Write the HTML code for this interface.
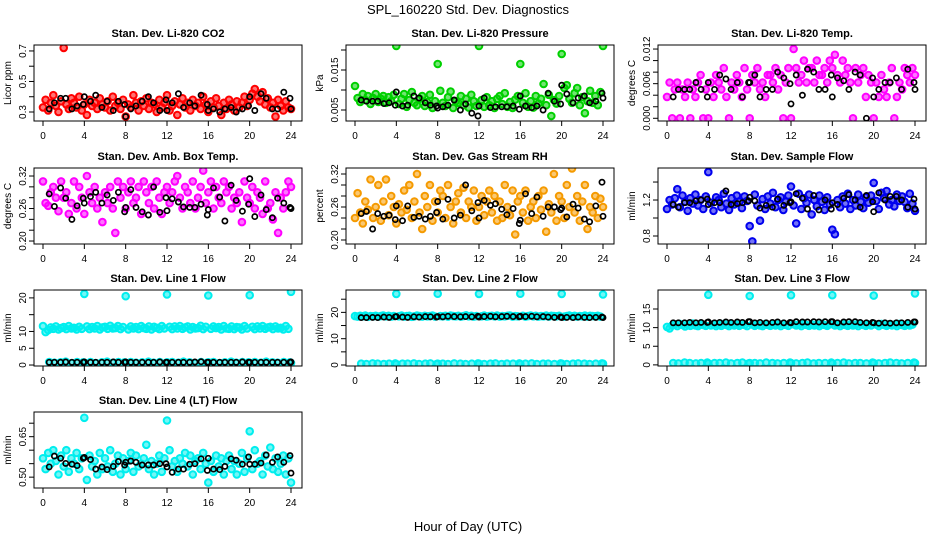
<!DOCTYPE html>
<html><head><meta charset="utf-8"><style>
html,body{margin:0;padding:0;background:#fff}
svg{display:block;font-family:"Liberation Sans",sans-serif}
</style></head><body>
<svg id="chart" width="936" height="540" viewBox="0 0 936 540" xmlns="http://www.w3.org/2000/svg">
<text x="468" y="14" text-anchor="middle" font-size="13">SPL_160220  Std. Dev. Diagnostics</text>
<text x="468" y="531" text-anchor="middle" font-size="13">Hour of Day (UTC)</text>
</svg>
<script>
const hoursC = [0,0.25,0.5,0.75,1,1.25,1.5,1.75,2,2.25,2.5,2.75,3,3.25,3.5,3.75,4,4.25,4.5,4.75,5,5.25,5.5,5.75,6,6.25,6.5,6.75,7,7.25,7.5,7.75,8,8.25,8.5,8.75,9,9.25,9.5,9.75,10,10.25,10.5,10.75,11,11.25,11.5,11.75,12,12.25,12.5,12.75,13,13.25,13.5,13.75,14,14.25,14.5,14.75,15,15.25,15.5,15.75,16,16.25,16.5,16.75,17,17.25,17.5,17.75,18,18.25,18.5,18.75,19,19.25,19.5,19.75,20,20.25,20.5,20.75,21,21.25,21.5,21.75,22,22.25,22.5,22.75,23,23.25,23.5,23.75,24];
const hoursB = [0.6,1.1,1.7,2.2,2.8,3.3,3.9,4.0,4.6,5.1,5.7,6.2,6.8,7.3,7.9,8.0,8.5,9.0,9.6,10.2,10.7,11.3,11.9,12.0,12.5,13.1,13.6,14.2,14.7,15.3,15.9,16.0,16.5,17.1,17.6,18.2,18.7,19.3,19.9,20.0,20.5,21.1,21.6,22.2,22.7,23.3,23.9,24.0];
const xTicks = [0,4,8,12,16,20,24];

const co2C = [0.33,0.38,0.31,0.36,0.41,0.34,0.30,0.37,0.72,0.35,0.32,0.39,0.36,0.33,0.40,0.31,0.35,0.28,0.38,0.34,0.36,0.32,0.39,0.35,0.33,0.37,0.31,0.40,0.34,0.36,0.32,0.38,0.27,0.35,0.33,0.41,0.36,0.31,0.37,0.34,0.39,0.32,0.36,0.35,0.30,0.38,0.33,0.36,0.41,0.31,0.34,0.37,0.28,0.35,0.39,0.33,0.36,0.31,0.38,0.34,0.36,0.32,0.40,0.35,0.30,0.37,0.33,0.39,0.34,0.28,0.36,0.32,0.38,0.35,0.31,0.37,0.33,0.36,0.40,0.34,0.38,0.42,0.45,0.40,0.37,0.43,0.35,0.39,0.33,0.36,0.27,0.38,0.34,0.31,0.37,0.33,0.32];
const co2B = [0.32,0.36,0.39,0.39,0.32,0.34,0.35,0.40,0.37,0.41,0.33,0.37,0.31,0.37,0.35,0.27,0.32,0.34,0.37,0.40,0.36,0.31,0.38,0.31,0.36,0.42,0.33,0.36,0.34,0.41,0.35,0.31,0.32,0.30,0.32,0.33,0.30,0.32,0.34,0.40,0.31,0.42,0.39,0.32,0.32,0.43,0.39,0.32];
const presC = [.011,.008,.007,.009,.0075,.0085,.0065,.008,.009,.007,.0078,.0085,.0068,.0082,.0072,.0088,.021,.0065,.0078,.009,.0058,.0075,.0095,.0068,.0062,.0078,.0085,.006,.007,.0088,.0055,.0072,.0165,.0098,.0068,.006,.0082,.0096,.0055,.0072,.0068,.0085,.0062,.0078,.0056,.0088,.0072,.006,.021,.0075,.0058,.0082,.0062,.0072,.0055,.0078,.0085,.0065,.0092,.0058,.007,.0055,.0076,.0085,.0165,.0068,.0092,.0058,.0072,.0056,.0085,.0066,.0078,.0115,.0062,.0088,.0035,.0075,.0066,.0085,.019,.0105,.0112,.0078,.0068,.0092,.0105,.0062,.0082,.0042,.0072,.0098,.0068,.0085,.0062,.0095,.021];
const presB = [.0075,.0072,.0072,.0072,.0066,.0068,.0062,.0095,.0060,.0062,.0085,.0080,.0068,.0062,.0060,.0055,.0058,.0062,.0075,.0050,.0065,.0042,.0035,.0060,.0080,.0056,.0058,.0058,.0058,.0060,.0052,.0085,.0060,.0056,.0060,.0050,.0092,.0072,.0065,.0112,.0090,.0068,.0080,.0085,.0068,.0072,.0092,.0080];
const tempC = [0.0037,0.0062,0.0000,0.0050,0.0062,0.0000,0.0050,0.0037,0.0062,0.0000,0.0050,0.0037,0.0062,0.0075,0.0000,0.0050,0.0000,0.0062,0.0037,0.0075,0.0062,0.0050,0.0087,0.0037,0.0000,0.0062,0.0050,0.0075,0.0062,0.0037,0.0087,0.0050,0.0000,0.0075,0.0062,0.0087,0.0050,0.0062,0.0037,0.0075,0.0075,0.0062,0.0087,0.0050,0.0075,0.0000,0.0062,0.0087,0.0000,0.0120,0.0087,0.0062,0.0075,0.0100,0.0062,0.0087,0.0087,0.0062,0.0100,0.0075,0.0075,0.0087,0.0062,0.0100,0.0087,0.0110,0.0075,0.0062,0.0100,0.0075,0.0087,0.0062,0.0000,0.0087,0.0062,0.0075,0.0087,0.0037,0.0075,0.0062,0.0000,0.0062,0.0037,0.0075,0.0050,0.0037,0.0062,0.0087,0.0000,0.0037,0.0062,0.0050,0.0087,0.0075,0.0062,0.0087,0.0075];
const tempB = [0.0037,0.0050,0.0050,0.0050,0.0062,0.0050,0.0037,0.0062,0.0050,0.0075,0.0068,0.0050,0.0062,0.0037,0.0062,0.0062,0.0075,0.0037,0.0050,0.0050,0.0080,0.0070,0.0060,0.0025,0.0075,0.0040,0.0085,0.0080,0.0050,0.0050,0.0075,0.0037,0.0070,0.0065,0.0050,0.0080,0.0075,0.0000,0.0070,0.0037,0.0050,0.0062,0.0062,0.0070,0.0050,0.0085,0.0062,0.0050];
const ambC = [.31,.27,.265,.29,.30,.28,.255,.31,.28,.29,.25,.27,.31,.26,.30,.28,.25,.32,.29,.27,.30,.26,.28,.235,.29,.27,.30,.26,.215,.31,.28,.30,.26,.29,.31,.27,.28,.30,.25,.31,.29,.27,.30,.26,.31,.28,.25,.29,.30,.27,.29,.31,.32,.28,.26,.30,.29,.27,.31,.26,.28,.30,.33,.27,.29,.31,.26,.30,.28,.27,.31,.29,.30,.26,.28,.27,.29,.235,.31,.28,.27,.30,.26,.29,.28,.25,.31,.26,.27,.24,.29,.215,.28,.26,.29,.31,.30];
const ambB = [.287,.264,.298,.279,.240,.265,.279,.270,.282,.290,.270,.285,.275,.290,.254,.262,.295,.262,.254,.248,.300,.253,.280,.256,.278,.272,.263,.262,.262,.268,.248,.258,.298,.281,.237,.303,.275,.255,.268,.315,.245,.285,.258,.243,.279,.270,.262,.260];
const rhC = [.24,.285,.25,.23,.27,.255,.31,.24,.26,.30,.235,.27,.31,.245,.28,.26,.23,.265,.25,.29,.255,.30,.24,.27,.32,.25,.22,.28,.26,.30,.235,.27,.25,.29,.28,.24,.30,.26,.23,.27,.285,.25,.295,.24,.27,.26,.29,.235,.26,.28,.245,.27,.29,.25,.28,.235,.27,.24,.30,.26,.245,.29,.21,.27,.28,.25,.29,.235,.26,.27,.24,.28,.255,.29,.215,.265,.25,.32,.235,.28,.27,.24,.30,.26,.33,.25,.28,.235,.27,.30,.22,.26,.25,.28,.24,.275,.26];
const rhB = [.248,.252,.220,.248,.243,.245,.237,.262,.235,.262,.241,.243,.238,.243,.250,.270,.238,.274,.240,.245,.300,.253,.268,.240,.272,.263,.266,.256,.246,.257,.230,.236,.284,.248,.278,.243,.260,.260,.255,.258,.242,.265,.258,.238,.233,.262,.305,.243];
const flowC = [1.10,1.20,1.15,1.22,1.32,1.12,1.25,1.18,1.08,1.22,1.16,1.26,1.14,1.20,1.10,1.24,1.51,1.17,1.08,1.23,1.20,1.12,1.27,1.16,1.09,1.22,1.15,1.25,1.18,1.11,1.24,1.19,0.91,0.74,1.26,1.14,0.97,1.21,1.10,1.24,1.16,1.28,1.12,1.20,1.23,1.09,1.18,1.25,1.35,1.14,0.94,1.27,1.10,1.22,1.17,1.26,1.04,1.20,1.13,1.25,1.18,1.09,1.23,1.15,0.87,0.82,1.20,1.12,1.24,1.16,1.27,1.10,1.20,1.14,1.26,1.18,1.11,1.23,1.17,1.25,1.39,1.19,1.10,1.28,1.22,1.30,1.15,1.20,1.13,1.26,1.19,1.24,1.18,1.11,1.27,1.16,1.08];
const flowB = [1.15,1.12,1.17,1.17,1.19,1.20,1.21,1.15,1.17,1.17,1.30,1.15,1.16,1.17,1.19,1.23,1.19,1.11,1.14,1.12,1.21,1.14,1.17,1.18,1.27,1.22,1.10,1.25,1.09,1.20,1.10,1.17,1.15,1.22,1.26,1.20,1.12,1.25,1.18,1.07,1.28,1.20,1.24,1.24,1.20,1.12,1.21,1.10];
const l1C = [11.6,9.8,10.4,11.2,10.8,11.5,10.6,11.0,11.3,10.7,11.6,10.9,11.1,10.6,11.4,10.8,21.2,11.5,10.7,11.3,10.9,11.6,10.6,11.2,11.4,10.8,11.7,10.9,11.0,11.6,10.7,11.3,20.5,10.6,11.5,10.9,11.3,10.7,11.6,11.0,10.8,11.5,10.6,11.4,11.1,10.7,11.6,10.9,21.0,11.4,10.7,11.5,10.9,11.6,10.8,11.2,11.5,10.6,11.3,10.9,11.0,11.7,10.7,11.4,20.7,10.8,11.5,11.0,11.3,10.6,11.6,10.9,10.8,11.5,10.7,11.3,11.2,10.6,11.6,10.9,20.8,11.4,10.7,11.5,10.9,11.6,10.8,11.2,11.4,10.7,11.5,10.9,11.1,10.6,11.6,10.8,21.8];
const l1Low = [0.9,0.7,0.8,1.0,0.6,0.9,0.8,0.7,0.9,0.6,0.8,1.0,0.7,0.9,0.8,0.6,0.9,0.7,0.8,1.0,0.7,0.9,0.6,0.8,0.9,0.7,1.0,0.8,0.6,0.9,0.7,0.8,0.9,0.6,0.8,1.0,0.7,0.9,0.8,0.6,0.9,0.7,1.0,0.8,0.7,0.9,0.8,0.6];
const l1B = [0.8,0.8,0.8,0.9,0.8,0.8,0.8,0.9,0.8,0.8,0.8,0.8,0.9,0.8,0.8,0.9,0.8,0.8,0.8,0.8,0.8,0.9,0.8,0.8,0.8,0.8,0.8,0.8,0.9,1.0,0.8,0.8,0.8,0.8,0.8,0.8,0.8,0.9,0.8,0.8,0.8,0.8,0.8,0.8,0.8,0.8,0.8,0.9];
const l2C = [18.6,18.4,18.7,18.5,18.8,18.3,18.6,18.5,18.7,18.4,18.6,18.8,18.5,18.7,18.4,18.6,27.0,18.5,18.8,18.4,18.6,18.7,18.3,18.5,18.8,18.6,18.4,18.7,18.5,18.6,18.8,18.4,27.1,18.6,18.5,18.7,18.4,18.8,18.6,18.5,18.7,18.4,18.6,18.9,18.5,18.7,18.4,18.6,27.0,18.5,18.8,18.4,18.6,18.7,18.5,18.8,18.4,18.6,18.5,18.7,18.8,18.4,18.6,18.5,27.1,18.7,18.4,18.6,18.8,18.5,18.7,18.4,18.6,18.5,18.8,18.4,18.7,18.6,18.5,18.7,27.0,18.4,18.6,18.8,18.5,18.7,18.4,18.6,18.5,18.8,18.4,18.7,18.6,18.5,18.7,18.4,26.8];
const l2Low = [0.5,0.4,0.6,0.5,0.4,0.5,0.6,0.4,0.5,0.5,0.6,0.4,0.5,0.6,0.4,0.5,0.5,0.4,0.6,0.5,0.4,0.5,0.6,0.5,0.4,0.5,0.6,0.4,0.5,0.5,0.6,0.4,0.5,0.6,0.4,0.5,0.5,0.4,0.6,0.5,0.4,0.5,0.6,0.5,0.4,0.5,0.6,0.5];
const l2B = [18.0,18.0,18.1,18.0,18.2,18.1,18.3,18.4,18.2,18.1,18.3,18.2,18.4,18.3,18.2,18.4,18.3,18.5,18.4,18.3,18.4,18.3,18.5,18.2,18.4,18.5,18.3,18.4,18.5,18.4,18.3,18.5,18.4,18.5,18.3,18.4,18.2,18.1,18.2,18.0,18.1,18.0,18.2,18.1,18.0,18.1,18.2,18.0];
const l3C = [10.2,9.8,10.6,10.9,10.4,11.0,10.7,10.3,10.8,10.5,11.1,10.6,10.4,10.9,10.7,10.5,18.8,10.6,10.9,10.4,10.8,10.5,11.0,10.7,10.4,10.9,10.6,10.8,10.5,11.0,10.7,10.4,18.5,10.8,10.5,10.9,10.6,10.4,11.0,10.7,10.5,10.9,10.6,10.8,10.4,11.0,10.7,10.5,18.7,10.9,10.6,10.8,10.4,11.0,10.7,10.5,10.9,10.6,10.8,10.4,11.0,10.7,10.5,10.9,18.7,10.6,10.8,10.4,11.0,10.7,10.5,10.9,10.6,10.8,10.4,11.0,10.7,10.5,10.9,10.6,18.6,10.8,10.4,11.0,10.7,10.5,10.9,10.6,10.8,10.4,11.0,10.7,10.5,10.9,10.6,10.8,19.2];
const l3Low = [0.5,0.4,0.6,0.5,0.4,0.5,0.6,0.4,0.5,0.5,0.6,0.4,0.5,0.6,0.4,0.5,0.5,0.4,0.6,0.5,0.4,0.5,0.6,0.5,0.4,0.5,0.6,0.4,0.5,0.5,0.6,0.4,0.5,0.6,0.4,0.5,0.5,0.4,0.6,0.5,0.4,0.5,0.6,0.5,0.4,0.5,0.6,0.5];
const l3B = [11.3,11.3,11.3,11.4,11.3,11.4,11.4,11.5,11.3,11.4,11.5,11.4,11.5,11.4,11.6,11.6,11.3,11.4,11.3,11.4,11.5,11.3,11.4,11.3,11.6,11.5,11.5,11.6,11.5,11.6,11.6,11.6,11.3,11.5,11.6,11.6,11.4,11.3,11.4,11.3,11.2,11.3,11.2,11.3,11.3,11.4,11.5,11.5];
const l4C = [.57,.53,.59,.55,.60,.56,.51,.58,.54,.60,.52,.57,.55,.59,.53,.57,.72,.49,.58,.54,.56,.51,.59,.53,.57,.54,.60,.52,.55,.58,.51,.57,.53,.56,.59,.52,.58,.54,.55,.57,.62,.53,.56,.51,.55,.58,.52,.57,.71,.60,.54,.56,.52,.57,.55,.59,.54,.58,.51,.56,.57,.53,.59,.55,.48,.56,.52,.58,.54,.57,.51,.56,.58,.53,.56,.51,.55,.59,.52,.57,.67,.53,.60,.55,.56,.51,.58,.54,.61,.53,.57,.52,.55,.58,.51,.57,.48];
const l4B = [.538,.578,.570,.551,.548,.543,.570,.573,.565,.530,.538,.528,.540,.558,.545,.555,.560,.555,.545,.545,.545,.550,.550,.538,.518,.530,.530,.548,.550,.568,.525,.570,.530,.528,.540,.568,.563,.548,.575,.548,.548,.552,.582,.555,.575,.555,.580,.515];

const panels = [
 {name:'co2',title:'Stan. Dev. Li-820 CO2',ylab:'Licor ppm',col:0,row:0,ymin:0.241,ymax:0.739,ticks:[0.3,0.4,0.5,0.6,0.7],labels:['0.3','0.5','0.7'],series:[[hoursC,co2C,'#ff0000',1],[hoursB,co2B,'#000',0]]},
 {name:'pressure',title:'Stan. Dev. Li-820 Pressure',ylab:'kPa',col:1,row:0,ymin:0.00225,ymax:0.02125,ticks:[0.005,0.010,0.015,0.020],labels:['0.005','0.015'],series:[[hoursC,presC,'#00d000',1],[hoursB,presB,'#000',0]]},
 {name:'li820-temp',title:'Stan. Dev. Li-820 Temp.',ylab:'degrees C',col:2,row:0,ymin:-0.00047,ymax:0.0127,ticks:[0,0.002,0.004,0.006,0.008,0.010,0.012],labels:['0.000','0.006','0.012'],series:[[hoursC,tempC,'#ff00ff',1],[hoursB,tempB,'#000',0]]},
 {name:'amb-box-temp',title:'Stan. Dev. Amb. Box Temp.',ylab:'degrees C',col:0,row:1,ymin:0.1945,ymax:0.3348,ticks:[0.20,0.22,0.24,0.26,0.28,0.30,0.32],labels:['0.20','0.26','0.32'],series:[[hoursC,ambC,'#ff00ff',1],[hoursB,ambB,'#000',0]]},
 {name:'gas-stream-rh',title:'Stan. Dev. Gas Stream RH',ylab:'percent',col:1,row:1,ymin:0.1927,ymax:0.3309,ticks:[0.20,0.22,0.24,0.26,0.28,0.30,0.32],labels:['0.20','0.26','0.32'],series:[[hoursC,rhC,'#f59a00',1],[hoursB,rhB,'#000',0]]},
 {name:'sample-flow',title:'Stan. Dev. Sample Flow',ylab:'ml/min',col:2,row:1,ymin:0.711,ymax:1.556,ticks:[0.8,1.0,1.2,1.4],labels:['0.8','1.2'],series:[[hoursC,flowC,'#0000ee',1],[hoursB,flowB,'#000',0]]},
 {name:'line1-flow',title:'Stan. Dev. Line 1 Flow',ylab:'ml/min',col:0,row:2,ymin:-0.29,ymax:22.35,ticks:[0,5,10,15,20],labels:['0','5','10','20'],series:[[hoursC,l1C,'#00eeee',1],[hoursB,l1Low,'#00eeee',1],[hoursB,l1B,'#000',0]]},
 {name:'line2-flow',title:'Stan. Dev. Line 2 Flow',ylab:'ml/min',col:1,row:2,ymin:-0.375,ymax:28.5,ticks:[0,5,10,15,20,25],labels:['0','10','20'],series:[[hoursC,l2C,'#00eeee',1],[hoursB,l2Low,'#00eeee',1],[hoursB,l2B,'#000',0]]},
 {name:'line3-flow',title:'Stan. Dev. Line 3 Flow',ylab:'ml/min',col:2,row:2,ymin:-0.3,ymax:20.1,ticks:[0,5,10,15],labels:['0','5','10','15'],series:[[hoursC,l3C,'#00eeee',1],[hoursB,l3Low,'#00eeee',1],[hoursB,l3B,'#000',0]]},
 {name:'line4-flow',title:'Stan. Dev. Line 4 (LT) Flow',ylab:'ml/min',col:0,row:3,ymin:0.4598,ymax:0.7415,ticks:[0.50,0.55,0.60,0.65,0.70],labels:['0.50','0.65'],series:[[hoursC,l4C,'#00eeee',1],[hoursB,l4B,'#000',0]]}
];

const NS='http://www.w3.org/2000/svg';
const svg=document.getElementById('chart');
const rowTops=[45,168,290,412];
function mk(tag,attrs,parent){const e=document.createElementNS(NS,tag);for(const k in attrs)e.setAttribute(k,attrs[k]);parent.appendChild(e);return e;}
panels.forEach(p=>{
  const ox=312*p.col, top=rowTops[p.row], bottom=top+76, left=34+ox, right=302+ox;
  const xs=h=>43+ox+h*(248/24);
  const ys=v=>bottom-(v-p.ymin)/(p.ymax-p.ymin)*76;
  const g=mk('g',{},svg);
  
  
  const t=mk('text',{x:(left+right)/2,y:top-8,'text-anchor':'middle','font-size':'11','font-weight':'bold'},g);
  t.textContent=p.title;
  
  
  const yl=mk('text',{x:0,y:0,'text-anchor':'middle','font-size':'10',transform:`translate(${left-23},${(top+bottom)/2}) rotate(-90)`},g);
  yl.textContent=p.ylab;
  
  
  const cid='clip'+p.name;
  const cp=mk('clipPath',{id:cid},g);
  mk('rect',{x:left,y:top,width:right-left,height:76},cp);
  const pts=mk('g',{'clip-path':`url(#${cid})`},g);
  
  
  p.series.forEach(s=>{
    const hrs=s[0], vals=s[1], col=s[2], dense=s[3];
    const n=Math.min(hrs.length,vals.length);
    for(let i=0;i<n;i++){
      const c=mk('circle',{cx:xs(hrs[i]).toFixed(1),cy:ys(vals[i]).toFixed(1),r:dense?3.3:2.6,fill:dense?col:'none','fill-opacity':dense?0.55:0,stroke:col,'stroke-width':dense?2:1.7},pts);
      
      
    }
  });
  const box=mk('rect',{x:left,y:top,width:right-left,height:76,fill:'none',stroke:'#000','stroke-width':1},g);
  
  
  xTicks.forEach(h=>{
    mk('line',{x1:xs(h),x2:xs(h),y1:bottom,y2:bottom+5,stroke:'#000'},g);
    const tl=mk('text',{x:xs(h),y:bottom+18,'text-anchor':'middle','font-size':'10'},g);
    tl.textContent=h;
    
    
  });
  p.ticks.forEach(v=>{
    mk('line',{x1:left-5,x2:left,y1:ys(v),y2:ys(v),stroke:'#000'},g);
  });
  p.labels.forEach(lab=>{
    const v=parseFloat(lab);
    const tl=mk('text',{x:0,y:0,'text-anchor':'middle','font-size':'10',transform:`translate(${left-8},${ys(v)}) rotate(-90)`},g);
    tl.textContent=lab;
    
    
  });
});
</script>
</body></html>
